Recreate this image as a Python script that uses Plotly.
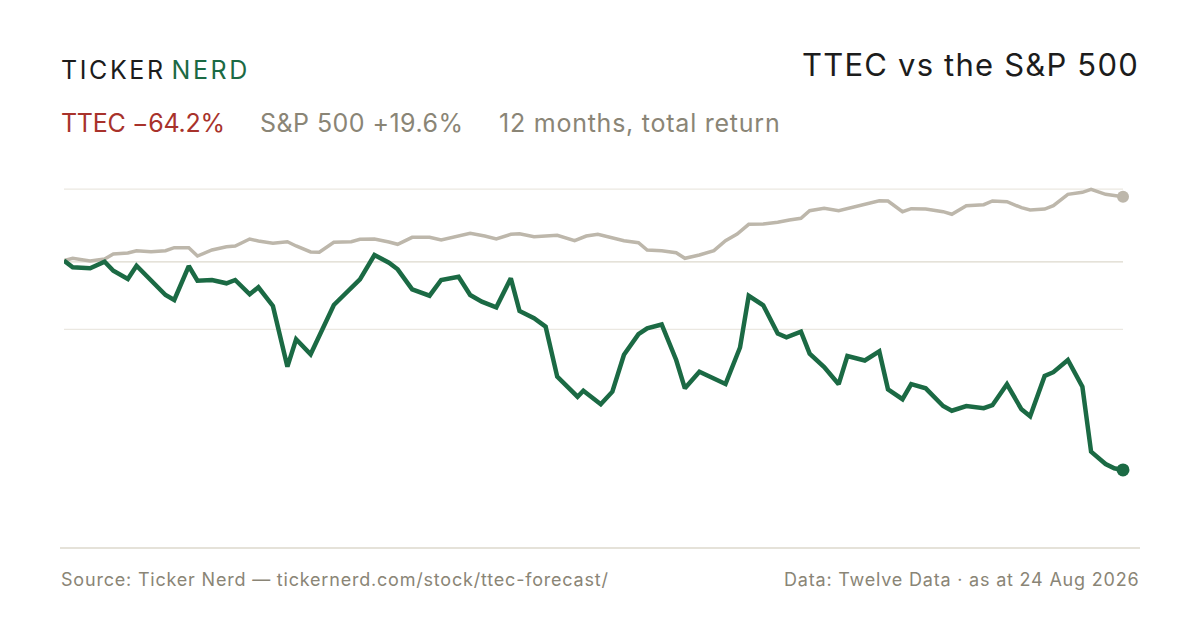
import datetime as dt
import plotly.graph_objects as go

# ---- data ----
start = dt.date(2025, 8, 24)

ttec_days = [0, 3, 9, 14, 17, 22, 25, 35, 38, 43, 46, 51, 56, 59, 64, 67, 72, 77, 80, 85,
             93, 102, 107, 112, 115, 120, 126, 130, 136, 140, 144, 149, 154, 157, 162, 166,
             170, 177, 179, 185, 189, 193, 198, 201, 206, 211, 214, 219, 228, 233, 236, 241,
             246, 249, 254, 257, 262, 267, 270, 276, 281, 284, 289, 292, 297, 303, 306, 311,
             317, 320, 325, 330, 333, 338, 341, 346, 351, 354, 359, 362, 365]
ttec_ret = [0.0, -2.05, -2.36, -0.34, -3.10, -5.64, -1.56, -10.55, -12.08, -1.66, -6.16, -5.95,
            -6.96, -5.95, -10.33, -8.19, -13.92, -32.53, -24.13, -28.73, -13.62, -5.73, 1.72,
            -0.64, -2.67, -8.80, -10.76, -5.95, -4.94, -10.55, -12.60, -14.32, -5.43, -15.46,
            -17.69, -20.27, -35.60, -41.74, -39.90, -44.07, -40.20, -28.86, -22.57, -20.76,
            -19.60, -30.48, -39.16, -34.07, -37.84, -26.65, -10.79, -13.71, -22.35, -23.52,
            -21.80, -28.55, -32.63, -37.90, -29.25, -30.63, -27.84, -39.47, -42.50, -37.90,
            -39.16, -44.59, -46.03, -44.59, -45.26, -44.34, -37.93, -45.60, -47.75, -35.39,
            -34.22, -30.48, -38.67, -58.60, -62.37, -63.69, -64.2]

spx_days = [0, 3, 9, 14, 17, 22, 25, 30, 35, 38, 43, 46, 51, 56, 59, 64, 67, 72, 77, 80, 85, 88,
            93, 99, 102, 107, 112, 115, 120, 126, 130, 136, 140, 145, 149, 154, 157, 162, 166,
            170, 176, 180, 184, 193, 198, 201, 206, 211, 214, 219, 224, 228, 232, 236, 241, 246,
            250, 254, 257, 262, 267, 276, 281, 284, 289, 292, 297, 303, 306, 311, 317, 320, 325,
            330, 333, 338, 341, 346, 351, 354, 359, 365]
spx_ret = [0.0, 0.71, -0.12, 0.49, 2.02, 2.33, 3.04, 2.73, 3.04, 3.96, 3.96, 1.41, 3.25, 4.26,
           4.48, 6.62, 6.01, 5.31, 5.80, 4.48, 2.64, 2.55, 5.61, 5.80, 6.53, 6.62, 5.70, 5.00,
           7.14, 7.14, 6.32, 7.54, 8.37, 7.54, 6.62, 8.06, 8.25, 7.33, 7.54, 7.76, 6.10, 7.54,
           8.06, 6.10, 5.49, 3.25, 3.04, 2.42, 0.71, 1.72, 3.04, 6.10, 8.16, 11.13, 11.22, 11.74,
           12.45, 12.97, 15.30, 16.04, 15.30, 17.26, 18.37, 18.28, 15.00, 15.92, 15.82, 15.00,
           14.20, 16.84, 17.14, 18.28, 18.06, 16.22, 15.52, 15.82, 16.84, 20.33, 20.94, 21.86,
           20.33, 19.6]

grid_vals = [21.9, -0.4, -21.1]

title = "TTEC vs the S&P 500"
ttec_label = "TTEC \u221264.2%"
spx_label = "S&P 500 +19.6%"
period_label = "12 months, total return"
source_text = "Source: Ticker Nerd \u2014 tickernerd.com/stock/ttec-forecast/"
data_text = "Data: Twelve Data \u00b7 as at 24 Aug 2026"

# ---- styles ----
GREEN = "#1b6a44"
SPX = "#bdb7ab"
RED = "#a8322b"
GREY = "#8a8576"
DARK = "#1c1c1c"
FONT = "Inter"

W, H = 1200, 630
L, R, T, B = 64, 77, 150, 82
PW, PH = W - L - R, H - T - B


def px(x):
    return (x - L) / PW


def py(y):
    return (H - B - y) / PH


def spaced(txt, ls):
    return '<span style="letter-spacing:%.2fpx">%s</span>' % (ls, txt)


ttec_x = [start + dt.timedelta(days=d) for d in ttec_days]
spx_x = [start + dt.timedelta(days=d) for d in spx_days]

fig = go.Figure()
fig.add_trace(go.Scatter(x=spx_x, y=spx_ret, mode="lines",
                         line=dict(color=SPX, width=3.5), hoverinfo="skip", cliponaxis=False))
fig.add_trace(go.Scatter(x=ttec_x, y=ttec_ret, mode="lines",
                         line=dict(color=GREEN, width=4.5), hoverinfo="skip", cliponaxis=False))
fig.add_trace(go.Scatter(x=[spx_x[-1]], y=[spx_ret[-1]], mode="markers",
                         marker=dict(color=SPX, size=12), hoverinfo="skip", cliponaxis=False))
fig.add_trace(go.Scatter(x=[ttec_x[-1]], y=[ttec_ret[-1]], mode="markers",
                         marker=dict(color=GREEN, size=13), hoverinfo="skip", cliponaxis=False))

shapes = []
for i, g in enumerate(grid_vals):
    shapes.append(dict(type="line", xref="paper", yref="y", x0=0, x1=1, y0=g, y1=g,
                       line=dict(color="#ddd9cd" if i == 1 else "#ebe8e1", width=1.2),
                       layer="below"))
shapes.append(dict(type="line", xref="paper", yref="paper", x0=px(60), x1=px(1140),
                   y0=0, y1=0, line=dict(color="#dcd8cc", width=1.6), layer="below"))

logo = (spaced("TICKE", 2.6) + spaced("R", 8.5)
        + '<span style="letter-spacing:2.6px;color:%s">NERD</span>' % GREEN)

ann = []
ann.append(dict(text=logo, x=px(59), y=py(70), xanchor="left", yanchor="middle",
                font=dict(family=FONT, size=25, color=DARK)))
ann.append(dict(text=spaced(title, 1.2), x=px(1141), y=py(64), xanchor="right", yanchor="middle",
                font=dict(family=FONT, size=31, color=DARK)))
ann.append(dict(text=spaced(ttec_label, -0.3), x=px(59), y=py(123), xanchor="left",
                yanchor="middle", font=dict(family=FONT, size=25, color=RED)))
ann.append(dict(text=spaced(spx_label, 0.45), x=px(258), y=py(123), xanchor="left",
                yanchor="middle", font=dict(family=FONT, size=25, color=GREY)))
ann.append(dict(text=spaced(period_label, 0.76), x=px(497), y=py(123), xanchor="left",
                yanchor="middle", font=dict(family=FONT, size=25, color=GREY)))
ann.append(dict(text=spaced(source_text, 0.8), x=px(59), y=py(579), xanchor="left",
                yanchor="middle", font=dict(family=FONT, size=18, color=GREY)))
ann.append(dict(text=spaced(data_text, 0.8), x=px(1141), y=py(579), xanchor="right",
                yanchor="middle", font=dict(family=FONT, size=18, color=GREY)))
for a in ann:
    a.update(xref="paper", yref="paper", showarrow=False)

y_top = (260.6 - T) / 3.261
y_bot = (260.6 - (H - B)) / 3.261

fig.update_layout(
    width=W, height=H,
    margin=dict(l=L, r=R, t=T, b=B),
    paper_bgcolor="white", plot_bgcolor="white",
    showlegend=False,
    shapes=shapes, annotations=ann,
    xaxis=dict(range=[ttec_x[0], ttec_x[-1]], visible=False, fixedrange=True),
    yaxis=dict(range=[y_bot, y_top], visible=False, fixedrange=True),
)

fig.write_html("out.html", config={"displayModeBar": False},
               post_script="document.body.style.margin='0';")
